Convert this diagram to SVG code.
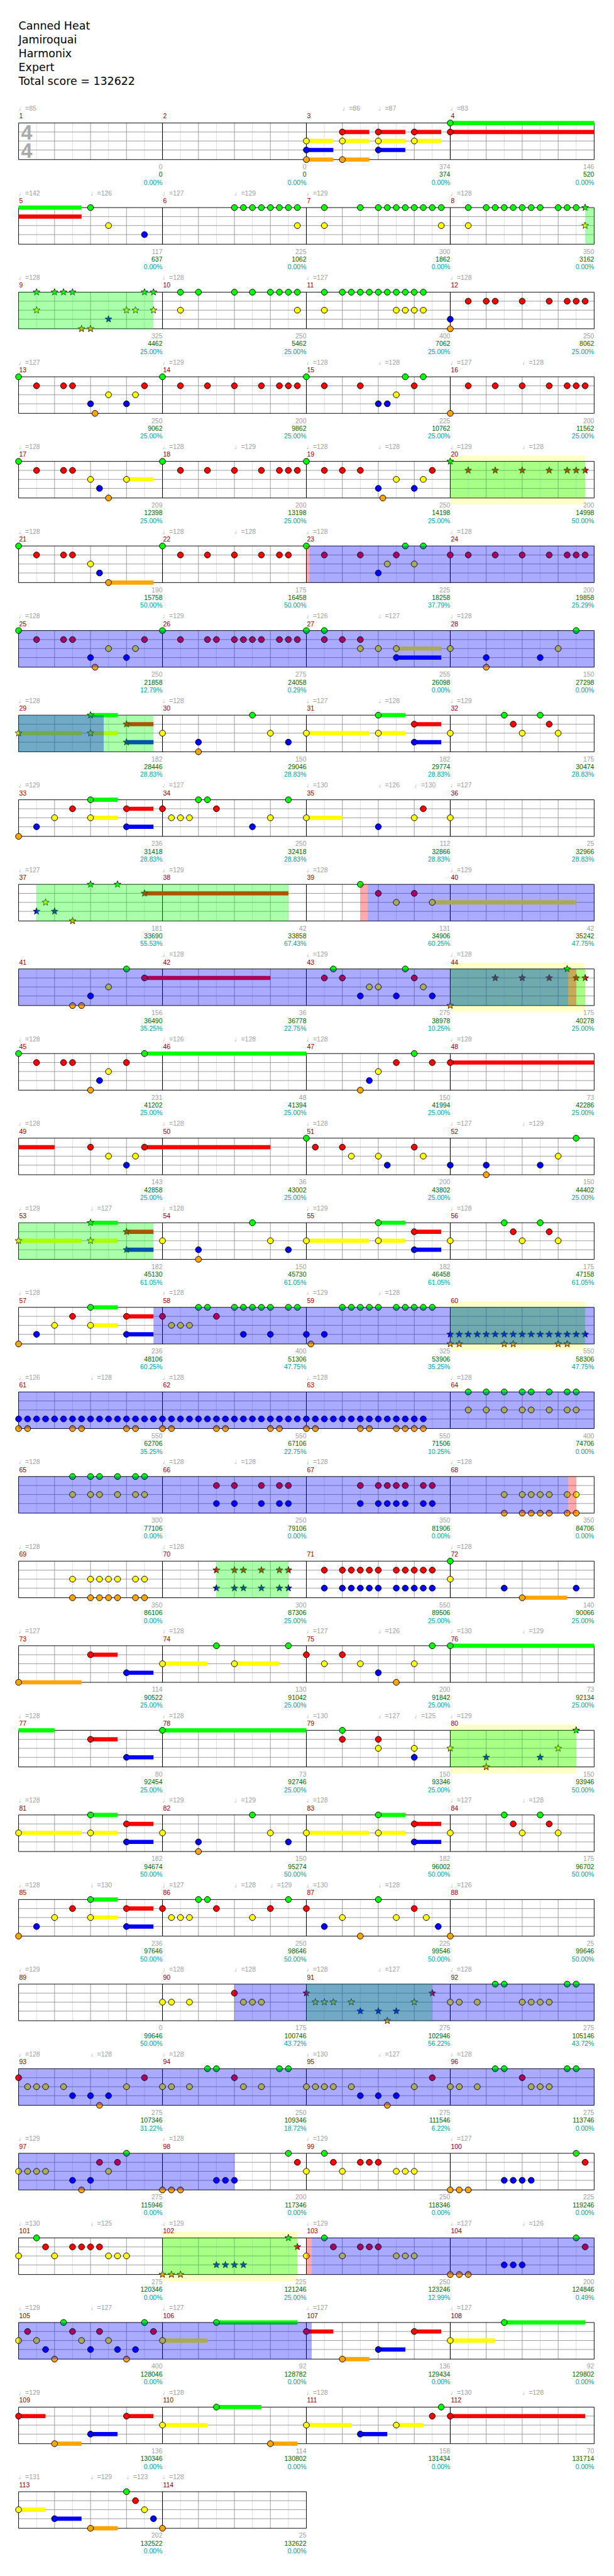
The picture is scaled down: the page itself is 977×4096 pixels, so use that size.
<svg xmlns="http://www.w3.org/2000/svg" width="977" height="4096" viewBox="0 0 977 4096">
<style>
text{font-family:"Liberation Sans","DejaVu Sans",sans-serif;font-size:11px}
.hd{font-family:"DejaVu Sans",sans-serif;font-size:18.3px;fill:#000}
.tp{fill:#a0a0a0}
.mn{fill:#8b0000}
.sc{fill:#a0a0a0;text-anchor:end}
.cu{fill:#006400;text-anchor:end}
.pc{fill:#00a0a0;text-anchor:end}
.ts{font-family:"Liberation Sans",sans-serif;font-weight:bold;font-size:34px;fill:#aaa}
.sg,.sr,.sy,.sb,.so{fill:none;stroke-width:7}
.sg{stroke:#0f0}.sr{stroke:#f00}.sy{stroke:#ff0}.sb{stroke:#00f}.so{stroke:#ffa500}
.og{fill:#0f0;fill-opacity:.333}.ob{fill:#00f;fill-opacity:.333}.op{fill:#f00;fill-opacity:.333}.pl{fill:#ffffc8}
circle{stroke:#000;stroke-width:1}
</style>
<defs>
<g id="M">
<path d="M30 0V61M90 0V61M150 0V61M210 0V61" stroke="#dcdcdc" fill="none"/>
<path d="M0 15H240M0 30H240M0 45H240M60 0V61M120 0V61M180 0V61" stroke="#999" fill="none"/>
<path d="M0 0H240M0 61H240M0 0V61M240 0V61" stroke="#000" fill="none"/>
</g>
<g id="R4"><use href="#M"/><use href="#M" x="240"/><use href="#M" x="480"/><use href="#M" x="720"/></g>
<circle id="G" cy="0" r="5" fill="#0f0"/>
<circle id="R" cy="15" r="5" fill="#f00"/>
<circle id="Y" cy="30" r="5" fill="#ff0"/>
<circle id="B" cy="45" r="5" fill="#00f"/>
<circle id="O" cy="61" r="5" fill="#ffa500"/>
<path id="st" d="M0,-6L1.47,-2.02 5.71,-1.85 2.38,0.77 3.53,4.85 0,2.5 -3.53,4.85 -2.38,0.77 -5.71,-1.85 -1.47,-2.02Z" stroke="#000" stroke-width="0.8"/>
<use id="sG" href="#st" fill="#0f0"/>
<use id="sR" href="#st" y="15" fill="#f00"/>
<use id="sY" href="#st" y="30" fill="#ff0"/>
<use id="sB" href="#st" y="45" fill="#00f"/>
<use id="sO" href="#st" y="61" fill="#ffa500"/>
</defs>
<rect width="977" height="4096" fill="#fff"/>
<g transform="scale(0.954)">
<g id="header">
<text class="hd" x="31" y="49">Canned Heat</text>
<text class="hd" x="31" y="72">Jamiroquai</text>
<text class="hd" x="31" y="95">Harmonix</text>
<text class="hd" x="31" y="118">Expert</text>
<text class="hd" x="31" y="141">Total score = 132622</text>
</g>

<g id="row1" transform="translate(31,205)">
<use href="#R4"/>
<text class="ts" x="4" y="28">4</text><text class="ts" x="4" y="58">4</text>
<g id="connectors1">
<path class="sy" d="M480 30h45M540 30h45M600 30h45M660 30h45"/>
<path class="sb" d="M480 45h45M600 45h45"/>
<path class="so" d="M480 61h45M540 61h45"/>
<path class="sr" d="M540 15h45M600 15h45M660 15h45M720 15h240"/>
<path class="sg" d="M720 0h240"/>
</g>
<use href="#Y" x="480"/><use href="#B" x="480"/><use href="#O" x="480"/><use href="#R" x="540"/><use href="#Y" x="540"/><use href="#O" x="540"/><use href="#R" x="600"/><use href="#Y" x="600"/><use href="#B" x="600"/><use href="#R" x="660"/><use href="#Y" x="660"/><use href="#G" x="720"/><use href="#R" x="720"/>
<text class="tp" x="0" y="-20.5">♩=85</text><text class="tp" x="540" y="-20.5">♩=86</text><text class="tp" x="600" y="-20.5">♩=87</text><text class="tp" x="720" y="-20.5">♩=83</text>
<text class="mn" x="1" y="-7.5">1</text><text class="mn" x="241" y="-7.5">2</text><text class="mn" x="481" y="-7.5">3</text><text class="mn" x="721" y="-7.5">4</text>
<text class="sc" x="240" y="77">0</text><text class="cu" x="240" y="90">0</text><text class="pc" x="240" y="103">0.00%</text>
<text class="sc" x="480" y="77">0</text><text class="cu" x="480" y="90">0</text><text class="pc" x="480" y="103">0.00%</text>
<text class="sc" x="720" y="77">374</text><text class="cu" x="720" y="90">374</text><text class="pc" x="720" y="103">0.00%</text>
<text class="sc" x="960" y="77">146</text><text class="cu" x="960" y="90">520</text><text class="pc" x="960" y="103">0.00%</text>
</g>

<g id="row2" transform="translate(31,346)">
<use href="#R4"/>
<path class="sg" d="M0 0h105"/><path class="sr" d="M0 15h105"/>
<use href="#G" x="120"/><use href="#Y" x="150"/><use href="#B" x="210"/><use href="#G" x="360"/><use href="#G" x="375"/><use href="#G" x="390"/><use href="#G" x="405"/><use href="#G" x="420"/><use href="#G" x="435"/><use href="#G" x="450"/><use href="#G" x="465"/><use href="#Y" x="465"/><use href="#G" x="510"/><use href="#G" x="570"/><use href="#G" x="600"/><use href="#G" x="615"/><use href="#G" x="630"/><use href="#G" x="645"/><use href="#G" x="660"/><use href="#G" x="675"/><use href="#G" x="690"/><use href="#G" x="705"/><use href="#Y" x="510"/><use href="#Y" x="705"/><use href="#G" x="750"/><use href="#G" x="780"/><use href="#G" x="795"/><use href="#G" x="810"/><use href="#G" x="825"/><use href="#G" x="840"/><use href="#G" x="855"/><use href="#G" x="870"/><use href="#G" x="900"/><use href="#G" x="915"/><use href="#G" x="930"/><use href="#Y" x="750"/><use href="#sG" x="945"/><use href="#sY" x="945"/>
<rect class="og" x="945" y="0" width="15" height="61"/>
<text class="tp" x="0" y="-20.5">♩=142</text><text class="tp" x="120" y="-20.5">♩=126</text><text class="tp" x="240" y="-20.5">♩=127</text><text class="tp" x="360" y="-20.5">♩=129</text><text class="tp" x="480" y="-20.5">♩=129</text><text class="tp" x="720" y="-20.5">♩=128</text>
<text class="mn" x="1" y="-7.5">5</text><text class="mn" x="241" y="-7.5">6</text><text class="mn" x="481" y="-7.5">7</text><text class="mn" x="721" y="-7.5">8</text>
<text class="sc" x="240" y="77">117</text><text class="cu" x="240" y="90">637</text><text class="pc" x="240" y="103">0.00%</text>
<text class="sc" x="480" y="77">225</text><text class="cu" x="480" y="90">1062</text><text class="pc" x="480" y="103">0.00%</text>
<text class="sc" x="720" y="77">300</text><text class="cu" x="720" y="90">1862</text><text class="pc" x="720" y="103">0.00%</text>
<text class="sc" x="960" y="77">350</text><text class="cu" x="960" y="90">3162</text><text class="pc" x="960" y="103">0.00%</text>
</g>

<g id="row3" transform="translate(31,487)">
<use href="#R4"/>
<use href="#sG" x="30"/><use href="#sG" x="60"/><use href="#sG" x="75"/><use href="#sG" x="90"/><use href="#sG" x="210"/><use href="#sG" x="225"/><use href="#sY" x="30"/><use href="#sY" x="180"/><use href="#sY" x="195"/><use href="#sY" x="225"/><use href="#sB" x="150"/><use href="#sO" x="105"/><use href="#sO" x="120"/>
<use href="#G" x="270"/><use href="#G" x="300"/><use href="#G" x="360"/><use href="#G" x="390"/><use href="#G" x="420"/><use href="#G" x="435"/><use href="#G" x="450"/><use href="#G" x="465"/><use href="#Y" x="270"/><use href="#Y" x="465"/><use href="#G" x="510"/><use href="#G" x="540"/><use href="#G" x="555"/><use href="#G" x="570"/><use href="#G" x="585"/><use href="#G" x="600"/><use href="#G" x="615"/><use href="#G" x="630"/><use href="#G" x="645"/><use href="#G" x="660"/><use href="#G" x="675"/><use href="#Y" x="510"/><use href="#Y" x="630"/><use href="#Y" x="645"/><use href="#Y" x="660"/><use href="#Y" x="675"/><use href="#B" x="720"/><use href="#O" x="720"/><use href="#R" x="750"/><use href="#R" x="780"/><use href="#R" x="795"/><use href="#R" x="840"/><use href="#R" x="885"/><use href="#R" x="915"/><use href="#R" x="930"/><use href="#R" x="945"/>
<rect class="og" x="0" y="0" width="225" height="61"/>
<text class="tp" x="0" y="-20.5">♩=128</text><text class="tp" x="240" y="-20.5">♩=128</text><text class="tp" x="480" y="-20.5">♩=127</text><text class="tp" x="720" y="-20.5">♩=128</text>
<text class="mn" x="1" y="-7.5">9</text><text class="mn" x="241" y="-7.5">10</text><text class="mn" x="481" y="-7.5">11</text><text class="mn" x="721" y="-7.5">12</text>
<text class="sc" x="240" y="77">325</text><text class="cu" x="240" y="90">4462</text><text class="pc" x="240" y="103">25.00%</text>
<text class="sc" x="480" y="77">250</text><text class="cu" x="480" y="90">5462</text><text class="pc" x="480" y="103">25.00%</text>
<text class="sc" x="720" y="77">400</text><text class="cu" x="720" y="90">7062</text><text class="pc" x="720" y="103">25.00%</text>
<text class="sc" x="960" y="77">250</text><text class="cu" x="960" y="90">8062</text><text class="pc" x="960" y="103">25.00%</text>
</g>

<g id="row4" transform="translate(31,628)">
<use href="#R4"/>
<use href="#G" x="0"/><use href="#R" x="30"/><use href="#R" x="75"/><use href="#R" x="90"/><use href="#R" x="210"/><use href="#Y" x="150"/><use href="#Y" x="195"/><use href="#B" x="120"/><use href="#B" x="180"/><use href="#O" x="127.5"/><use href="#G" x="240"/><use href="#R" x="270"/><use href="#R" x="315"/><use href="#R" x="360"/><use href="#R" x="405"/><use href="#R" x="435"/><use href="#R" x="450"/><use href="#R" x="465"/><use href="#G" x="480"/><use href="#R" x="510"/><use href="#R" x="570"/><use href="#R" x="660"/><use href="#Y" x="630"/><use href="#B" x="600"/><use href="#B" x="615"/><use href="#G" x="645"/><use href="#G" x="675"/><use href="#O" x="720"/><use href="#R" x="750"/><use href="#R" x="795"/><use href="#R" x="840"/><use href="#R" x="885"/><use href="#R" x="915"/><use href="#R" x="930"/><use href="#R" x="945"/>
<text class="tp" x="0" y="-20.5">♩=127</text><text class="tp" x="240" y="-20.5">♩=129</text><text class="tp" x="480" y="-20.5">♩=128</text><text class="tp" x="600" y="-20.5">♩=128</text><text class="tp" x="720" y="-20.5">♩=127</text><text class="tp" x="840" y="-20.5">♩=128</text>
<text class="mn" x="1" y="-7.5">13</text><text class="mn" x="241" y="-7.5">14</text><text class="mn" x="481" y="-7.5">15</text><text class="mn" x="721" y="-7.5">16</text>
<text class="sc" x="240" y="77">250</text><text class="cu" x="240" y="90">9062</text><text class="pc" x="240" y="103">25.00%</text>
<text class="sc" x="480" y="77">200</text><text class="cu" x="480" y="90">9862</text><text class="pc" x="480" y="103">25.00%</text>
<text class="sc" x="720" y="77">225</text><text class="cu" x="720" y="90">10762</text><text class="pc" x="720" y="103">25.00%</text>
<text class="sc" x="960" y="77">200</text><text class="cu" x="960" y="90">11562</text><text class="pc" x="960" y="103">25.00%</text>
</g>

<g id="row5" transform="translate(31,769)">
<rect class="pl" x="720" y="-10" width="225" height="82"/>
<use href="#R4"/>
<path class="sy" d="M180 30h45"/>
<use href="#G" x="0"/><use href="#R" x="30"/><use href="#R" x="75"/><use href="#R" x="90"/><use href="#Y" x="120"/><use href="#Y" x="180"/><use href="#B" x="135"/><use href="#O" x="150"/><use href="#G" x="240"/><use href="#R" x="270"/><use href="#R" x="315"/><use href="#R" x="360"/><use href="#R" x="405"/><use href="#R" x="435"/><use href="#R" x="450"/><use href="#R" x="465"/><use href="#G" x="480"/><use href="#R" x="510"/><use href="#R" x="540"/><use href="#R" x="570"/><use href="#R" x="690"/><use href="#Y" x="630"/><use href="#Y" x="675"/><use href="#B" x="600"/><use href="#B" x="660"/><use href="#O" x="607.5"/><use href="#sG" x="720"/><use href="#sR" x="750"/><use href="#sR" x="795"/><use href="#sR" x="840"/><use href="#sR" x="885"/><use href="#sR" x="915"/><use href="#sR" x="930"/><use href="#sR" x="945"/>
<rect class="og" x="720" y="0" width="225" height="61"/>
<text class="tp" x="0" y="-20.5">♩=128</text><text class="tp" x="240" y="-20.5">♩=128</text><text class="tp" x="360" y="-20.5">♩=129</text><text class="tp" x="480" y="-20.5">♩=128</text><text class="tp" x="600" y="-20.5">♩=128</text><text class="tp" x="720" y="-20.5">♩=129</text><text class="tp" x="840" y="-20.5">♩=128</text>
<text class="mn" x="1" y="-7.5">17</text><text class="mn" x="241" y="-7.5">18</text><text class="mn" x="481" y="-7.5">19</text><text class="mn" x="721" y="-7.5">20</text>
<text class="sc" x="240" y="77">209</text><text class="cu" x="240" y="90">12398</text><text class="pc" x="240" y="103">25.00%</text>
<text class="sc" x="480" y="77">200</text><text class="cu" x="480" y="90">13198</text><text class="pc" x="480" y="103">25.00%</text>
<text class="sc" x="720" y="77">250</text><text class="cu" x="720" y="90">14198</text><text class="pc" x="720" y="103">25.00%</text>
<text class="sc" x="960" y="77">200</text><text class="cu" x="960" y="90">14998</text><text class="pc" x="960" y="103">50.00%</text>
</g>

<g id="row6" transform="translate(31,910)">
<use href="#R4"/>
<path class="so" d="M150 61h75"/>
<use href="#G" x="0"/><use href="#R" x="30"/><use href="#R" x="75"/><use href="#R" x="90"/><use href="#Y" x="120"/><use href="#B" x="135"/><use href="#O" x="150"/><use href="#G" x="240"/><use href="#R" x="270"/><use href="#R" x="315"/><use href="#R" x="360"/><use href="#R" x="405"/><use href="#R" x="435"/><use href="#R" x="450"/><use href="#G" x="480"/><use href="#R" x="510"/><use href="#R" x="570"/><use href="#R" x="630"/><use href="#G" x="645"/><use href="#G" x="675"/><use href="#Y" x="615"/><use href="#Y" x="660"/><use href="#B" x="600"/><use href="#R" x="720"/><use href="#R" x="750"/><use href="#R" x="795"/><use href="#R" x="840"/><use href="#R" x="885"/><use href="#R" x="915"/><use href="#R" x="930"/><use href="#R" x="945"/>
<rect class="op" x="480" y="0" width="5" height="61"/><rect class="ob" x="485" y="0" width="475" height="61"/>
<text class="tp" x="0" y="-20.5">♩=128</text><text class="tp" x="240" y="-20.5">♩=128</text><text class="tp" x="360" y="-20.5">♩=128</text><text class="tp" x="480" y="-20.5">♩=128</text><text class="tp" x="720" y="-20.5">♩=128</text>
<text class="mn" x="1" y="-7.5">21</text><text class="mn" x="241" y="-7.5">22</text><text class="mn" x="481" y="-7.5">23</text><text class="mn" x="721" y="-7.5">24</text>
<text class="sc" x="240" y="77">190</text><text class="cu" x="240" y="90">15758</text><text class="pc" x="240" y="103">50.00%</text>
<text class="sc" x="480" y="77">175</text><text class="cu" x="480" y="90">16458</text><text class="pc" x="480" y="103">50.00%</text>
<text class="sc" x="720" y="77">225</text><text class="cu" x="720" y="90">18258</text><text class="pc" x="720" y="103">37.79%</text>
<text class="sc" x="960" y="77">200</text><text class="cu" x="960" y="90">19858</text><text class="pc" x="960" y="103">25.29%</text>
</g>

<g id="row7" transform="translate(31,1051)">
<use href="#R4"/>
<path class="sy" d="M630 30h75"/><path class="sb" d="M630 45h75"/>
<use href="#G" x="0"/><use href="#R" x="30"/><use href="#R" x="75"/><use href="#R" x="90"/><use href="#R" x="210"/><use href="#Y" x="150"/><use href="#Y" x="195"/><use href="#B" x="120"/><use href="#B" x="180"/><use href="#O" x="127.5"/><use href="#G" x="240"/><use href="#R" x="270"/><use href="#R" x="315"/><use href="#R" x="330"/><use href="#R" x="360"/><use href="#R" x="375"/><use href="#R" x="390"/><use href="#R" x="405"/><use href="#R" x="435"/><use href="#R" x="450"/><use href="#R" x="465"/><use href="#G" x="480"/><use href="#G" x="510"/><use href="#R" x="510"/><use href="#R" x="540"/><use href="#R" x="570"/><use href="#Y" x="570"/><use href="#Y" x="600"/><use href="#Y" x="630"/><use href="#B" x="630"/><use href="#Y" x="720"/><use href="#Y" x="900"/><use href="#B" x="780"/><use href="#B" x="870"/><use href="#O" x="780"/><use href="#G" x="930"/>
<rect class="ob" x="0" y="0" width="960" height="61"/>
<text class="tp" x="0" y="-20.5">♩=128</text><text class="tp" x="240" y="-20.5">♩=129</text><text class="tp" x="480" y="-20.5">♩=126</text><text class="tp" x="600" y="-20.5">♩=127</text><text class="tp" x="720" y="-20.5">♩=128</text>
<text class="mn" x="1" y="-7.5">25</text><text class="mn" x="241" y="-7.5">26</text><text class="mn" x="481" y="-7.5">27</text><text class="mn" x="721" y="-7.5">28</text>
<text class="sc" x="240" y="77">250</text><text class="cu" x="240" y="90">21858</text><text class="pc" x="240" y="103">12.79%</text>
<text class="sc" x="480" y="77">275</text><text class="cu" x="480" y="90">24058</text><text class="pc" x="480" y="103">0.29%</text>
<text class="sc" x="720" y="77">255</text><text class="cu" x="720" y="90">26098</text><text class="pc" x="720" y="103">0.00%</text>
<text class="sc" x="960" y="77">150</text><text class="cu" x="960" y="90">27298</text><text class="pc" x="960" y="103">0.00%</text>
</g>

<g id="row8" transform="translate(31,1192)">
<use href="#R4"/>
<path class="sy" d="M0 30h105M120 30h45M480 30h105M600 30h45"/><path class="sg" d="M120 0h45M600 0h45"/><path class="sr" d="M180 15h45M660 15h45"/><path class="sb" d="M180 45h45M660 45h45"/>
<use href="#sY" x="0"/><use href="#sG" x="120"/><use href="#sY" x="120"/><use href="#sR" x="180"/><use href="#sB" x="180"/>
<use href="#Y" x="240"/><use href="#Y" x="420"/><use href="#B" x="300"/><use href="#B" x="450"/><use href="#O" x="300"/><use href="#G" x="390"/><use href="#Y" x="480"/><use href="#G" x="600"/><use href="#Y" x="600"/><use href="#R" x="660"/><use href="#B" x="660"/><use href="#Y" x="720"/><use href="#Y" x="840"/><use href="#Y" x="900"/><use href="#G" x="810"/><use href="#G" x="870"/><use href="#R" x="825"/><use href="#R" x="885"/>
<rect class="og" x="0" y="0" width="225" height="61"/><rect class="ob" x="0" y="0" width="142" height="61"/>
<text class="tp" x="0" y="-20.5">♩=128</text><text class="tp" x="240" y="-20.5">♩=128</text><text class="tp" x="480" y="-20.5">♩=127</text><text class="tp" x="600" y="-20.5">♩=128</text><text class="tp" x="720" y="-20.5">♩=129</text>
<text class="mn" x="1" y="-7.5">29</text><text class="mn" x="241" y="-7.5">30</text><text class="mn" x="481" y="-7.5">31</text><text class="mn" x="721" y="-7.5">32</text>
<text class="sc" x="240" y="77">182</text><text class="cu" x="240" y="90">28446</text><text class="pc" x="240" y="103">28.83%</text>
<text class="sc" x="480" y="77">150</text><text class="cu" x="480" y="90">29046</text><text class="pc" x="480" y="103">28.83%</text>
<text class="sc" x="720" y="77">182</text><text class="cu" x="720" y="90">29774</text><text class="pc" x="720" y="103">28.83%</text>
<text class="sc" x="960" y="77">175</text><text class="cu" x="960" y="90">30474</text><text class="pc" x="960" y="103">28.83%</text>
</g>

<g id="row9" transform="translate(31,1333)">
<use href="#R4"/>
<path class="sg" d="M120 0h45"/><path class="sy" d="M120 30h45M480 30h60"/><path class="sr" d="M180 15h45"/><path class="sb" d="M180 45h45"/>
<use href="#O" x="0"/><use href="#B" x="30"/><use href="#Y" x="60"/><use href="#R" x="90"/><use href="#G" x="120"/><use href="#Y" x="120"/><use href="#R" x="180"/><use href="#B" x="180"/><use href="#R" x="240"/><use href="#R" x="330"/><use href="#Y" x="255"/><use href="#Y" x="270"/><use href="#Y" x="285"/><use href="#Y" x="420"/><use href="#G" x="300"/><use href="#G" x="315"/><use href="#G" x="450"/><use href="#B" x="390"/><use href="#Y" x="480"/><use href="#B" x="600"/><use href="#Y" x="660"/><use href="#R" x="675"/><use href="#Y" x="720"/>
<text class="tp" x="0" y="-20.5">♩=129</text><text class="tp" x="240" y="-20.5">♩=127</text><text class="tp" x="480" y="-20.5">♩=130</text><text class="tp" x="600" y="-20.5">♩=126</text><text class="tp" x="660" y="-20.5">♩=130</text><text class="tp" x="720" y="-20.5">♩=127</text>
<text class="mn" x="1" y="-7.5">33</text><text class="mn" x="241" y="-7.5">34</text><text class="mn" x="481" y="-7.5">35</text><text class="mn" x="721" y="-7.5">36</text>
<text class="sc" x="240" y="77">236</text><text class="cu" x="240" y="90">31418</text><text class="pc" x="240" y="103">28.83%</text>
<text class="sc" x="480" y="77">250</text><text class="cu" x="480" y="90">32418</text><text class="pc" x="480" y="103">28.83%</text>
<text class="sc" x="720" y="77">112</text><text class="cu" x="720" y="90">32866</text><text class="pc" x="720" y="103">28.83%</text>
<text class="sc" x="960" y="77">25</text><text class="cu" x="960" y="90">32966</text><text class="pc" x="960" y="103">28.83%</text>
</g>

<g id="row10" transform="translate(31,1474)">
<use href="#R4"/>
<path class="sr" d="M210 15h240"/><path class="sy" d="M690 30h240"/>
<use href="#sB" x="30"/><use href="#sY" x="45"/><use href="#sB" x="60"/><use href="#sO" x="90"/><use href="#sG" x="120"/><use href="#sG" x="165"/><use href="#sR" x="210"/>
<use href="#G" x="570"/><use href="#R" x="600"/><use href="#R" x="660"/><use href="#Y" x="630"/><use href="#Y" x="690"/>
<rect class="og" x="30" y="0" width="420" height="61"/><rect class="op" x="570" y="0" width="12" height="61"/><rect class="ob" x="582" y="0" width="378" height="61"/>
<text class="tp" x="0" y="-20.5">♩=127</text><text class="tp" x="240" y="-20.5">♩=129</text><text class="tp" x="480" y="-20.5">♩=128</text><text class="tp" x="720" y="-20.5">♩=129</text>
<text class="mn" x="1" y="-7.5">37</text><text class="mn" x="241" y="-7.5">38</text><text class="mn" x="481" y="-7.5">39</text><text class="mn" x="721" y="-7.5">40</text>
<text class="sc" x="240" y="77">181</text><text class="cu" x="240" y="90">33690</text><text class="pc" x="240" y="103">55.53%</text>
<text class="sc" x="480" y="77">42</text><text class="cu" x="480" y="90">33858</text><text class="pc" x="480" y="103">67.43%</text>
<text class="sc" x="720" y="77">131</text><text class="cu" x="720" y="90">34906</text><text class="pc" x="720" y="103">60.25%</text>
<text class="sc" x="960" y="77">42</text><text class="cu" x="960" y="90">35242</text><text class="pc" x="960" y="103">47.75%</text>
</g>

<g id="row11" transform="translate(31,1615)">
<rect class="pl" x="720" y="-10" width="225" height="82"/>
<use href="#R4"/>
<path class="sr" d="M210 15h210"/>
<use href="#O" x="90"/><use href="#O" x="105"/><use href="#B" x="120"/><use href="#Y" x="150"/><use href="#G" x="180"/><use href="#R" x="210"/><use href="#R" x="510"/><use href="#R" x="540"/><use href="#R" x="660"/><use href="#G" x="525"/><use href="#G" x="645"/><use href="#Y" x="585"/><use href="#Y" x="600"/><use href="#Y" x="675"/><use href="#B" x="570"/><use href="#B" x="630"/><use href="#B" x="690"/>
<use href="#sO" x="720"/><use href="#sR" x="795"/><use href="#sR" x="840"/><use href="#sR" x="885"/><use href="#sR" x="930"/><use href="#sR" x="945"/><use href="#sG" x="915"/>
<rect class="og" x="720" y="0" width="225" height="61"/><rect class="ob" x="0" y="0" width="917" height="61"/><rect class="op" x="917" y="0" width="13" height="61"/>
<text class="tp" x="240" y="-20.5">♩=128</text><text class="tp" x="480" y="-20.5">♩=129</text><text class="tp" x="720" y="-20.5">♩=128</text>
<text class="mn" x="1" y="-7.5">41</text><text class="mn" x="241" y="-7.5">42</text><text class="mn" x="481" y="-7.5">43</text><text class="mn" x="721" y="-7.5">44</text>
<text class="sc" x="240" y="77">156</text><text class="cu" x="240" y="90">36490</text><text class="pc" x="240" y="103">35.25%</text>
<text class="sc" x="480" y="77">36</text><text class="cu" x="480" y="90">36778</text><text class="pc" x="480" y="103">22.75%</text>
<text class="sc" x="720" y="77">275</text><text class="cu" x="720" y="90">38978</text><text class="pc" x="720" y="103">10.25%</text>
<text class="sc" x="960" y="77">175</text><text class="cu" x="960" y="90">40278</text><text class="pc" x="960" y="103">25.00%</text>
</g>

<g id="row12" transform="translate(31,1756)">
<use href="#R4"/>
<path class="sg" d="M210 0h270"/><path class="sr" d="M720 15h240"/>
<use href="#G" x="0"/><use href="#R" x="30"/><use href="#R" x="75"/><use href="#R" x="90"/><use href="#R" x="180"/><use href="#Y" x="150"/><use href="#B" x="135"/><use href="#O" x="120"/><use href="#G" x="210"/><use href="#O" x="570"/><use href="#B" x="585"/><use href="#Y" x="600"/><use href="#R" x="630"/><use href="#R" x="690"/><use href="#G" x="660"/><use href="#R" x="720"/>
<text class="tp" x="0" y="-20.5">♩=128</text><text class="tp" x="240" y="-20.5">♩=126</text><text class="tp" x="360" y="-20.5">♩=128</text><text class="tp" x="480" y="-20.5">♩=128</text><text class="tp" x="720" y="-20.5">♩=128</text>
<text class="mn" x="1" y="-7.5">45</text><text class="mn" x="241" y="-7.5">46</text><text class="mn" x="481" y="-7.5">47</text><text class="mn" x="721" y="-7.5">48</text>
<text class="sc" x="240" y="77">231</text><text class="cu" x="240" y="90">41202</text><text class="pc" x="240" y="103">25.00%</text>
<text class="sc" x="480" y="77">48</text><text class="cu" x="480" y="90">41394</text><text class="pc" x="480" y="103">25.00%</text>
<text class="sc" x="720" y="77">150</text><text class="cu" x="720" y="90">41994</text><text class="pc" x="720" y="103">25.00%</text>
<text class="sc" x="960" y="77">73</text><text class="cu" x="960" y="90">42286</text><text class="pc" x="960" y="103">25.00%</text>
</g>

<g id="row13" transform="translate(31,1897)">
<use href="#R4"/>
<path class="sr" d="M0 15h60M210 15h210"/>
<use href="#R" x="120"/><use href="#Y" x="150"/><use href="#Y" x="195"/><use href="#B" x="180"/><use href="#R" x="210"/><use href="#G" x="480"/><use href="#R" x="495"/><use href="#R" x="540"/><use href="#R" x="660"/><use href="#Y" x="555"/><use href="#Y" x="600"/><use href="#Y" x="675"/><use href="#B" x="615"/><use href="#B" x="720"/><use href="#B" x="780"/><use href="#B" x="870"/><use href="#O" x="780"/><use href="#Y" x="900"/><use href="#G" x="930"/>
<text class="tp" x="0" y="-20.5">♩=128</text><text class="tp" x="240" y="-20.5">♩=128</text><text class="tp" x="480" y="-20.5">♩=128</text><text class="tp" x="720" y="-20.5">♩=127</text><text class="tp" x="840" y="-20.5">♩=129</text>
<text class="mn" x="1" y="-7.5">49</text><text class="mn" x="241" y="-7.5">50</text><text class="mn" x="481" y="-7.5">51</text><text class="mn" x="721" y="-7.5">52</text>
<text class="sc" x="240" y="77">143</text><text class="cu" x="240" y="90">42858</text><text class="pc" x="240" y="103">25.00%</text>
<text class="sc" x="480" y="77">36</text><text class="cu" x="480" y="90">43002</text><text class="pc" x="480" y="103">25.00%</text>
<text class="sc" x="720" y="77">200</text><text class="cu" x="720" y="90">43802</text><text class="pc" x="720" y="103">25.00%</text>
<text class="sc" x="960" y="77">150</text><text class="cu" x="960" y="90">44402</text><text class="pc" x="960" y="103">25.00%</text>
</g>

<g id="row14" transform="translate(31,2038)">
<use href="#R4"/>
<path class="sy" d="M0 30h105M120 30h45M480 30h105M600 30h45"/><path class="sg" d="M120 0h45M600 0h45"/><path class="sr" d="M180 15h45M660 15h45"/><path class="sb" d="M180 45h45M660 45h45"/>
<use href="#sY" x="0"/><use href="#sG" x="120"/><use href="#sY" x="120"/><use href="#sR" x="180"/><use href="#sB" x="180"/>
<use href="#Y" x="240"/><use href="#Y" x="420"/><use href="#B" x="300"/><use href="#B" x="450"/><use href="#O" x="300"/><use href="#G" x="390"/><use href="#Y" x="480"/><use href="#G" x="600"/><use href="#Y" x="600"/><use href="#R" x="660"/><use href="#B" x="660"/><use href="#Y" x="720"/><use href="#Y" x="840"/><use href="#Y" x="900"/><use href="#G" x="810"/><use href="#G" x="870"/><use href="#R" x="825"/><use href="#R" x="885"/>
<rect class="og" x="0" y="0" width="225" height="61"/>
<text class="tp" x="0" y="-20.5">♩=129</text><text class="tp" x="120" y="-20.5">♩=127</text><text class="tp" x="240" y="-20.5">♩=128</text><text class="tp" x="480" y="-20.5">♩=129</text><text class="tp" x="720" y="-20.5">♩=128</text>
<text class="mn" x="1" y="-7.5">53</text><text class="mn" x="241" y="-7.5">54</text><text class="mn" x="481" y="-7.5">55</text><text class="mn" x="721" y="-7.5">56</text>
<text class="sc" x="240" y="77">182</text><text class="cu" x="240" y="90">45130</text><text class="pc" x="240" y="103">61.05%</text>
<text class="sc" x="480" y="77">150</text><text class="cu" x="480" y="90">45730</text><text class="pc" x="480" y="103">61.05%</text>
<text class="sc" x="720" y="77">182</text><text class="cu" x="720" y="90">46458</text><text class="pc" x="720" y="103">61.05%</text>
<text class="sc" x="960" y="77">175</text><text class="cu" x="960" y="90">47158</text><text class="pc" x="960" y="103">61.05%</text>
</g>

<g id="row15" transform="translate(31,2179)">
<rect class="pl" x="720" y="-10" width="225" height="82"/>
<use href="#R4"/>
<path class="sg" d="M120 0h45"/><path class="sy" d="M120 30h45"/><path class="sr" d="M180 15h45"/><path class="sb" d="M180 45h45"/>
<use href="#O" x="0"/><use href="#B" x="30"/><use href="#Y" x="60"/><use href="#R" x="90"/><use href="#G" x="120"/><use href="#Y" x="120"/><use href="#R" x="180"/><use href="#B" x="180"/><use href="#R" x="240"/><use href="#R" x="330"/><use href="#Y" x="255"/><use href="#Y" x="270"/><use href="#Y" x="285"/><use href="#G" x="300"/><use href="#G" x="315"/><use href="#G" x="360"/><use href="#G" x="375"/><use href="#G" x="390"/><use href="#G" x="405"/><use href="#G" x="420"/><use href="#G" x="450"/><use href="#G" x="465"/><use href="#B" x="375"/><use href="#B" x="420"/><use href="#B" x="480"/><use href="#B" x="510"/><use href="#O" x="487.5"/><use href="#G" x="540"/><use href="#G" x="555"/><use href="#G" x="570"/><use href="#G" x="585"/><use href="#G" x="600"/><use href="#G" x="630"/><use href="#G" x="645"/><use href="#G" x="660"/><use href="#G" x="675"/><use href="#G" x="690"/>
<use href="#sB" x="720"/><use href="#sB" x="735"/><use href="#sB" x="750"/><use href="#sB" x="765"/><use href="#sB" x="780"/><use href="#sB" x="795"/><use href="#sB" x="810"/><use href="#sB" x="825"/><use href="#sB" x="840"/><use href="#sB" x="855"/><use href="#sB" x="870"/><use href="#sB" x="885"/><use href="#sB" x="900"/><use href="#sB" x="915"/><use href="#sB" x="930"/><use href="#sB" x="945"/><use href="#sO" x="720"/><use href="#sO" x="735"/><use href="#sO" x="810"/><use href="#sO" x="825"/><use href="#sO" x="900"/><use href="#sO" x="915"/>
<rect class="og" x="720" y="0" width="225" height="61"/><rect class="ob" x="225" y="0" width="735" height="61"/>
<text class="tp" x="0" y="-20.5">♩=128</text><text class="tp" x="240" y="-20.5">♩=128</text><text class="tp" x="480" y="-20.5">♩=129</text><text class="tp" x="600" y="-20.5">♩=128</text>
<text class="mn" x="1" y="-7.5">57</text><text class="mn" x="241" y="-7.5">58</text><text class="mn" x="481" y="-7.5">59</text><text class="mn" x="721" y="-7.5">60</text>
<text class="sc" x="240" y="77">236</text><text class="cu" x="240" y="90">48106</text><text class="pc" x="240" y="103">60.25%</text>
<text class="sc" x="480" y="77">400</text><text class="cu" x="480" y="90">51306</text><text class="pc" x="480" y="103">47.75%</text>
<text class="sc" x="720" y="77">325</text><text class="cu" x="720" y="90">53906</text><text class="pc" x="720" y="103">35.25%</text>
<text class="sc" x="960" y="77">550</text><text class="cu" x="960" y="90">58306</text><text class="pc" x="960" y="103">47.75%</text>
</g>

<g id="row16" transform="translate(31,2320)">
<use href="#R4"/>
<use href="#B" x="0"/><use href="#B" x="15"/><use href="#B" x="30"/><use href="#B" x="45"/><use href="#B" x="60"/><use href="#B" x="75"/><use href="#B" x="90"/><use href="#B" x="105"/><use href="#B" x="120"/><use href="#B" x="135"/><use href="#B" x="150"/><use href="#B" x="165"/><use href="#B" x="180"/><use href="#B" x="195"/><use href="#B" x="210"/><use href="#B" x="225"/><use href="#B" x="240"/><use href="#B" x="255"/><use href="#B" x="270"/><use href="#B" x="285"/><use href="#B" x="300"/><use href="#B" x="315"/><use href="#B" x="330"/><use href="#B" x="345"/><use href="#B" x="360"/><use href="#B" x="375"/><use href="#B" x="390"/><use href="#B" x="405"/><use href="#B" x="420"/><use href="#B" x="435"/><use href="#B" x="450"/><use href="#B" x="465"/><use href="#B" x="480"/><use href="#B" x="495"/><use href="#B" x="510"/><use href="#B" x="525"/><use href="#B" x="540"/><use href="#B" x="555"/><use href="#B" x="570"/><use href="#B" x="585"/><use href="#B" x="600"/><use href="#B" x="615"/><use href="#B" x="630"/><use href="#B" x="645"/><use href="#B" x="660"/><use href="#B" x="675"/>
<use href="#O" x="0"/><use href="#O" x="15"/><use href="#O" x="90"/><use href="#O" x="105"/><use href="#O" x="180"/><use href="#O" x="195"/><use href="#O" x="240"/><use href="#O" x="255"/><use href="#O" x="330"/><use href="#O" x="345"/><use href="#O" x="420"/><use href="#O" x="435"/><use href="#O" x="480"/><use href="#O" x="495"/><use href="#O" x="570"/><use href="#O" x="585"/><use href="#O" x="630"/><use href="#O" x="645"/><use href="#O" x="660"/><use href="#O" x="675"/>
<use href="#G" x="750"/><use href="#G" x="780"/><use href="#G" x="810"/><use href="#G" x="840"/><use href="#G" x="855"/><use href="#G" x="885"/><use href="#G" x="915"/><use href="#G" x="930"/><use href="#Y" x="750"/><use href="#Y" x="780"/><use href="#Y" x="810"/><use href="#Y" x="840"/><use href="#Y" x="855"/><use href="#Y" x="885"/><use href="#Y" x="915"/><use href="#Y" x="930"/>
<rect class="ob" x="0" y="0" width="960" height="61"/>
<text class="tp" x="0" y="-20.5">♩=126</text><text class="tp" x="120" y="-20.5">♩=128</text><text class="tp" x="240" y="-20.5">♩=128</text><text class="tp" x="480" y="-20.5">♩=128</text><text class="tp" x="720" y="-20.5">♩=128</text>
<text class="mn" x="1" y="-7.5">61</text><text class="mn" x="241" y="-7.5">62</text><text class="mn" x="481" y="-7.5">63</text><text class="mn" x="721" y="-7.5">64</text>
<text class="sc" x="240" y="77">550</text><text class="cu" x="240" y="90">62706</text><text class="pc" x="240" y="103">35.25%</text>
<text class="sc" x="480" y="77">550</text><text class="cu" x="480" y="90">67106</text><text class="pc" x="480" y="103">22.75%</text>
<text class="sc" x="720" y="77">550</text><text class="cu" x="720" y="90">71506</text><text class="pc" x="720" y="103">10.25%</text>
<text class="sc" x="960" y="77">400</text><text class="cu" x="960" y="90">74706</text><text class="pc" x="960" y="103">0.00%</text>
</g>

<g id="row17" transform="translate(31,2461)">
<use href="#R4"/>
<use href="#G" x="90"/><use href="#G" x="120"/><use href="#G" x="135"/><use href="#G" x="165"/><use href="#G" x="195"/><use href="#G" x="210"/><use href="#Y" x="90"/><use href="#Y" x="120"/><use href="#Y" x="135"/><use href="#Y" x="165"/><use href="#Y" x="195"/><use href="#Y" x="210"/>
<use href="#R" x="330"/><use href="#R" x="360"/><use href="#R" x="405"/><use href="#R" x="435"/><use href="#R" x="450"/><use href="#B" x="330"/><use href="#B" x="360"/><use href="#B" x="405"/><use href="#B" x="435"/><use href="#B" x="450"/>
<use href="#R" x="570"/><use href="#R" x="600"/><use href="#R" x="615"/><use href="#R" x="630"/><use href="#R" x="645"/><use href="#R" x="675"/><use href="#R" x="690"/><use href="#B" x="570"/><use href="#B" x="600"/><use href="#B" x="615"/><use href="#B" x="630"/><use href="#B" x="645"/><use href="#B" x="675"/><use href="#B" x="690"/>
<use href="#Y" x="810"/><use href="#Y" x="840"/><use href="#Y" x="855"/><use href="#Y" x="870"/><use href="#Y" x="885"/><use href="#Y" x="915"/><use href="#Y" x="930"/><use href="#O" x="810"/><use href="#O" x="840"/><use href="#O" x="855"/><use href="#O" x="870"/><use href="#O" x="885"/><use href="#O" x="915"/><use href="#O" x="930"/>
<rect class="ob" x="0" y="0" width="917" height="61"/><rect class="op" x="917" y="0" width="13" height="61"/>
<text class="tp" x="0" y="-20.5">♩=128</text><text class="tp" x="240" y="-20.5">♩=128</text><text class="tp" x="360" y="-20.5">♩=128</text><text class="tp" x="480" y="-20.5">♩=128</text><text class="tp" x="720" y="-20.5">♩=128</text>
<text class="mn" x="1" y="-7.5">65</text><text class="mn" x="241" y="-7.5">66</text><text class="mn" x="481" y="-7.5">67</text><text class="mn" x="721" y="-7.5">68</text>
<text class="sc" x="240" y="77">300</text><text class="cu" x="240" y="90">77106</text><text class="pc" x="240" y="103">0.00%</text>
<text class="sc" x="480" y="77">250</text><text class="cu" x="480" y="90">79106</text><text class="pc" x="480" y="103">0.00%</text>
<text class="sc" x="720" y="77">350</text><text class="cu" x="720" y="90">81906</text><text class="pc" x="720" y="103">0.00%</text>
<text class="sc" x="960" y="77">350</text><text class="cu" x="960" y="90">84706</text><text class="pc" x="960" y="103">0.00%</text>
</g>

<g id="row18" transform="translate(31,2602)">
<use href="#R4"/>
<path class="so" d="M840 61h75"/>
<use href="#Y" x="90"/><use href="#Y" x="120"/><use href="#Y" x="135"/><use href="#Y" x="150"/><use href="#Y" x="165"/><use href="#Y" x="195"/><use href="#Y" x="210"/><use href="#O" x="90"/><use href="#O" x="120"/><use href="#O" x="135"/><use href="#O" x="150"/><use href="#O" x="165"/><use href="#O" x="195"/><use href="#O" x="210"/>
<use href="#sR" x="330"/><use href="#sR" x="360"/><use href="#sR" x="375"/><use href="#sR" x="405"/><use href="#sR" x="435"/><use href="#sR" x="450"/><use href="#sB" x="330"/><use href="#sB" x="360"/><use href="#sB" x="375"/><use href="#sB" x="405"/><use href="#sB" x="435"/><use href="#sB" x="450"/>
<use href="#R" x="510"/><use href="#R" x="540"/><use href="#R" x="555"/><use href="#R" x="570"/><use href="#R" x="585"/><use href="#R" x="600"/><use href="#R" x="630"/><use href="#R" x="645"/><use href="#R" x="660"/><use href="#R" x="675"/><use href="#R" x="690"/><use href="#B" x="510"/><use href="#B" x="540"/><use href="#B" x="555"/><use href="#B" x="570"/><use href="#B" x="585"/><use href="#B" x="600"/><use href="#B" x="630"/><use href="#B" x="645"/><use href="#B" x="660"/><use href="#B" x="675"/><use href="#B" x="690"/>
<use href="#G" x="720"/><use href="#Y" x="720"/><use href="#B" x="810"/><use href="#B" x="930"/><use href="#O" x="840"/>
<rect class="og" x="330" y="0" width="120" height="61"/>
<text class="tp" x="0" y="-20.5">♩=128</text><text class="tp" x="240" y="-20.5">♩=128</text><text class="tp" x="720" y="-20.5">♩=128</text>
<text class="mn" x="1" y="-7.5">69</text><text class="mn" x="241" y="-7.5">70</text><text class="mn" x="481" y="-7.5">71</text><text class="mn" x="721" y="-7.5">72</text>
<text class="sc" x="240" y="77">350</text><text class="cu" x="240" y="90">86106</text><text class="pc" x="240" y="103">0.00%</text>
<text class="sc" x="480" y="77">300</text><text class="cu" x="480" y="90">87306</text><text class="pc" x="480" y="103">25.00%</text>
<text class="sc" x="720" y="77">550</text><text class="cu" x="720" y="90">89506</text><text class="pc" x="720" y="103">25.00%</text>
<text class="sc" x="960" y="77">140</text><text class="cu" x="960" y="90">90066</text><text class="pc" x="960" y="103">25.00%</text>
</g>

<g id="row19" transform="translate(31,2743)">
<use href="#R4"/>
<path class="so" d="M0 61h105"/><path class="sr" d="M120 15h45"/><path class="sb" d="M180 45h45"/><path class="sy" d="M240 30h75M360 30h75"/><path class="sg" d="M720 0h240"/>
<use href="#O" x="0"/><use href="#R" x="120"/><use href="#B" x="180"/><use href="#Y" x="240"/><use href="#G" x="330"/><use href="#Y" x="360"/><use href="#G" x="450"/><use href="#R" x="480"/><use href="#R" x="540"/><use href="#Y" x="510"/><use href="#Y" x="570"/><use href="#Y" x="660"/><use href="#B" x="600"/><use href="#O" x="630"/><use href="#G" x="690"/><use href="#G" x="720"/>
<text class="tp" x="0" y="-20.5">♩=127</text><text class="tp" x="240" y="-20.5">♩=128</text><text class="tp" x="480" y="-20.5">♩=127</text><text class="tp" x="600" y="-20.5">♩=126</text><text class="tp" x="720" y="-20.5">♩=130</text><text class="tp" x="840" y="-20.5">♩=129</text>
<text class="mn" x="1" y="-7.5">73</text><text class="mn" x="241" y="-7.5">74</text><text class="mn" x="481" y="-7.5">75</text><text class="mn" x="721" y="-7.5">76</text>
<text class="sc" x="240" y="77">114</text><text class="cu" x="240" y="90">90522</text><text class="pc" x="240" y="103">25.00%</text>
<text class="sc" x="480" y="77">130</text><text class="cu" x="480" y="90">91042</text><text class="pc" x="480" y="103">25.00%</text>
<text class="sc" x="720" y="77">200</text><text class="cu" x="720" y="90">91842</text><text class="pc" x="720" y="103">25.00%</text>
<text class="sc" x="960" y="77">73</text><text class="cu" x="960" y="90">92134</text><text class="pc" x="960" y="103">25.00%</text>
</g>

<g id="row20" transform="translate(31,2884)">
<rect class="pl" x="720" y="-10" width="210" height="82"/>
<use href="#R4"/>
<path class="sg" d="M0 0h60M240 0h240"/><path class="sr" d="M120 15h45"/><path class="sb" d="M180 45h45"/>
<use href="#R" x="120"/><use href="#B" x="180"/><use href="#G" x="240"/><use href="#G" x="540"/><use href="#R" x="540"/><use href="#R" x="600"/><use href="#Y" x="600"/><use href="#Y" x="660"/><use href="#B" x="660"/>
<use href="#sY" x="720"/><use href="#sB" x="780"/><use href="#sO" x="780"/><use href="#sB" x="870"/><use href="#sY" x="900"/><use href="#sG" x="930"/>
<rect class="og" x="720" y="0" width="210" height="61"/>
<text class="tp" x="0" y="-20.5">♩=128</text><text class="tp" x="240" y="-20.5">♩=128</text><text class="tp" x="480" y="-20.5">♩=130</text><text class="tp" x="600" y="-20.5">♩=127</text><text class="tp" x="660" y="-20.5">♩=125</text><text class="tp" x="720" y="-20.5">♩=129</text>
<text class="mn" x="1" y="-7.5">77</text><text class="mn" x="241" y="-7.5">78</text><text class="mn" x="481" y="-7.5">79</text><text class="mn" x="721" y="-7.5">80</text>
<text class="sc" x="240" y="77">80</text><text class="cu" x="240" y="90">92454</text><text class="pc" x="240" y="103">25.00%</text>
<text class="sc" x="480" y="77">73</text><text class="cu" x="480" y="90">92746</text><text class="pc" x="480" y="103">25.00%</text>
<text class="sc" x="720" y="77">150</text><text class="cu" x="720" y="90">93346</text><text class="pc" x="720" y="103">25.00%</text>
<text class="sc" x="960" y="77">150</text><text class="cu" x="960" y="90">93946</text><text class="pc" x="960" y="103">50.00%</text>
</g>

<g id="row21" transform="translate(31,3025)">
<use href="#R4"/>
<path class="sy" d="M0 30h105M120 30h45M480 30h105M600 30h45"/><path class="sg" d="M120 0h45M600 0h45"/><path class="sr" d="M180 15h45M660 15h45"/><path class="sb" d="M180 45h45M660 45h45"/>
<use href="#Y" x="0"/><use href="#G" x="120"/><use href="#Y" x="120"/><use href="#R" x="180"/><use href="#B" x="180"/><use href="#Y" x="240"/><use href="#Y" x="420"/><use href="#B" x="300"/><use href="#B" x="450"/><use href="#O" x="300"/><use href="#G" x="390"/><use href="#Y" x="480"/><use href="#G" x="600"/><use href="#Y" x="600"/><use href="#R" x="660"/><use href="#B" x="660"/><use href="#Y" x="720"/><use href="#Y" x="840"/><use href="#Y" x="900"/><use href="#G" x="810"/><use href="#G" x="870"/><use href="#R" x="825"/><use href="#R" x="885"/>
<text class="tp" x="0" y="-20.5">♩=128</text><text class="tp" x="240" y="-20.5">♩=129</text><text class="tp" x="360" y="-20.5">♩=129</text><text class="tp" x="480" y="-20.5">♩=128</text><text class="tp" x="720" y="-20.5">♩=127</text><text class="tp" x="840" y="-20.5">♩=128</text>
<text class="mn" x="1" y="-7.5">81</text><text class="mn" x="241" y="-7.5">82</text><text class="mn" x="481" y="-7.5">83</text><text class="mn" x="721" y="-7.5">84</text>
<text class="sc" x="240" y="77">182</text><text class="cu" x="240" y="90">94674</text><text class="pc" x="240" y="103">50.00%</text>
<text class="sc" x="480" y="77">150</text><text class="cu" x="480" y="90">95274</text><text class="pc" x="480" y="103">50.00%</text>
<text class="sc" x="720" y="77">182</text><text class="cu" x="720" y="90">96002</text><text class="pc" x="720" y="103">50.00%</text>
<text class="sc" x="960" y="77">175</text><text class="cu" x="960" y="90">96702</text><text class="pc" x="960" y="103">50.00%</text>
</g>

<g id="row22" transform="translate(31,3166)">
<use href="#R4"/>
<path class="sg" d="M120 0h45"/><path class="sy" d="M120 30h45"/><path class="sr" d="M180 15h45"/><path class="sb" d="M180 45h45"/>
<use href="#O" x="0"/><use href="#B" x="30"/><use href="#Y" x="60"/><use href="#R" x="90"/><use href="#G" x="120"/><use href="#Y" x="120"/><use href="#R" x="180"/><use href="#B" x="180"/><use href="#R" x="240"/><use href="#R" x="330"/><use href="#R" x="420"/><use href="#Y" x="255"/><use href="#Y" x="270"/><use href="#Y" x="285"/><use href="#Y" x="390"/><use href="#G" x="300"/><use href="#G" x="315"/><use href="#G" x="450"/><use href="#R" x="480"/><use href="#R" x="660"/><use href="#B" x="510"/><use href="#B" x="700"/><use href="#Y" x="540"/><use href="#Y" x="630"/><use href="#Y" x="680"/><use href="#O" x="570"/><use href="#O" x="720"/><use href="#G" x="600"/>
<text class="tp" x="0" y="-20.5">♩=128</text><text class="tp" x="120" y="-20.5">♩=130</text><text class="tp" x="240" y="-20.5">♩=127</text><text class="tp" x="360" y="-20.5">♩=128</text><text class="tp" x="420" y="-20.5">♩=129</text><text class="tp" x="480" y="-20.5">♩=130</text><text class="tp" x="600" y="-20.5">♩=128</text><text class="tp" x="720" y="-20.5">♩=126</text>
<text class="mn" x="1" y="-7.5">85</text><text class="mn" x="241" y="-7.5">86</text><text class="mn" x="481" y="-7.5">87</text><text class="mn" x="721" y="-7.5">88</text>
<text class="sc" x="240" y="77">236</text><text class="cu" x="240" y="90">97646</text><text class="pc" x="240" y="103">50.00%</text>
<text class="sc" x="480" y="77">250</text><text class="cu" x="480" y="90">98646</text><text class="pc" x="480" y="103">50.00%</text>
<text class="sc" x="720" y="77">225</text><text class="cu" x="720" y="90">99546</text><text class="pc" x="720" y="103">50.00%</text>
<text class="sc" x="960" y="77">25</text><text class="cu" x="960" y="90">99646</text><text class="pc" x="960" y="103">50.00%</text>
</g>

<g id="row23" transform="translate(31,3307)">
<use href="#R4"/>
<use href="#Y" x="240"/><use href="#Y" x="255"/><use href="#Y" x="285"/><use href="#R" x="360"/><use href="#Y" x="375"/><use href="#Y" x="390"/><use href="#Y" x="405"/><use href="#Y" x="720"/><use href="#Y" x="735"/><use href="#Y" x="765"/><use href="#Y" x="840"/><use href="#Y" x="855"/><use href="#Y" x="870"/><use href="#Y" x="885"/><use href="#G" x="795"/><use href="#G" x="810"/><use href="#G" x="915"/><use href="#G" x="930"/>
<use href="#sR" x="480"/><use href="#sY" x="495"/><use href="#sY" x="510"/><use href="#sY" x="525"/><use href="#sY" x="555"/><use href="#sY" x="660"/><use href="#sB" x="570"/><use href="#sB" x="600"/><use href="#sB" x="630"/><use href="#sO" x="615"/><use href="#sR" x="690"/>
<rect class="og" x="480" y="0" width="210" height="61"/><rect class="ob" x="360" y="0" width="600" height="61"/>
<text class="tp" x="0" y="-20.5">♩=129</text><text class="tp" x="240" y="-20.5">♩=128</text><text class="tp" x="360" y="-20.5">♩=128</text><text class="tp" x="480" y="-20.5">♩=128</text><text class="tp" x="600" y="-20.5">♩=127</text><text class="tp" x="720" y="-20.5">♩=128</text>
<text class="mn" x="1" y="-7.5">89</text><text class="mn" x="241" y="-7.5">90</text><text class="mn" x="481" y="-7.5">91</text><text class="mn" x="721" y="-7.5">92</text>
<text class="sc" x="240" y="77">0</text><text class="cu" x="240" y="90">99646</text><text class="pc" x="240" y="103">50.00%</text>
<text class="sc" x="480" y="77">175</text><text class="cu" x="480" y="90">100746</text><text class="pc" x="480" y="103">43.72%</text>
<text class="sc" x="720" y="77">275</text><text class="cu" x="720" y="90">102946</text><text class="pc" x="720" y="103">56.22%</text>
<text class="sc" x="960" y="77">275</text><text class="cu" x="960" y="90">105146</text><text class="pc" x="960" y="103">43.72%</text>
</g>

<g id="row24" transform="translate(31,3448)">
<use href="#R4"/>
<use href="#R" x="0"/><use href="#R" x="210"/><use href="#Y" x="15"/><use href="#Y" x="30"/><use href="#Y" x="45"/><use href="#Y" x="75"/><use href="#Y" x="180"/><use href="#B" x="90"/><use href="#B" x="120"/><use href="#B" x="150"/><use href="#O" x="135"/>
<use href="#Y" x="240"/><use href="#Y" x="255"/><use href="#Y" x="285"/><use href="#Y" x="375"/><use href="#Y" x="405"/><use href="#G" x="315"/><use href="#G" x="330"/><use href="#G" x="435"/><use href="#G" x="450"/><use href="#R" x="360"/>
<use href="#Y" x="480"/><use href="#Y" x="495"/><use href="#Y" x="510"/><use href="#Y" x="525"/><use href="#Y" x="555"/><use href="#Y" x="660"/><use href="#B" x="570"/><use href="#B" x="600"/><use href="#B" x="630"/><use href="#O" x="615"/><use href="#R" x="690"/>
<use href="#Y" x="720"/><use href="#Y" x="735"/><use href="#Y" x="765"/><use href="#Y" x="855"/><use href="#Y" x="870"/><use href="#Y" x="885"/><use href="#G" x="795"/><use href="#G" x="810"/><use href="#G" x="915"/><use href="#G" x="930"/><use href="#R" x="840"/>
<rect class="ob" x="0" y="0" width="960" height="61"/>
<text class="tp" x="0" y="-20.5">♩=128</text><text class="tp" x="120" y="-20.5">♩=128</text><text class="tp" x="240" y="-20.5">♩=128</text><text class="tp" x="480" y="-20.5">♩=130</text><text class="tp" x="600" y="-20.5">♩=127</text><text class="tp" x="720" y="-20.5">♩=128</text>
<text class="mn" x="1" y="-7.5">93</text><text class="mn" x="241" y="-7.5">94</text><text class="mn" x="481" y="-7.5">95</text><text class="mn" x="721" y="-7.5">96</text>
<text class="sc" x="240" y="77">275</text><text class="cu" x="240" y="90">107346</text><text class="pc" x="240" y="103">31.22%</text>
<text class="sc" x="480" y="77">250</text><text class="cu" x="480" y="90">109346</text><text class="pc" x="480" y="103">18.72%</text>
<text class="sc" x="720" y="77">275</text><text class="cu" x="720" y="90">111546</text><text class="pc" x="720" y="103">6.22%</text>
<text class="sc" x="960" y="77">275</text><text class="cu" x="960" y="90">113746</text><text class="pc" x="960" y="103">0.00%</text>
</g>

<g id="row25" transform="translate(31,3589)">
<use href="#R4"/>
<use href="#Y" x="0"/><use href="#Y" x="15"/><use href="#Y" x="30"/><use href="#Y" x="45"/><use href="#Y" x="150"/><use href="#B" x="90"/><use href="#B" x="120"/><use href="#O" x="105"/><use href="#R" x="135"/><use href="#R" x="165"/><use href="#G" x="180"/>
<use href="#O" x="240"/><use href="#O" x="255"/><use href="#O" x="270"/><use href="#B" x="330"/><use href="#B" x="345"/><use href="#B" x="360"/><use href="#G" x="450"/><use href="#R" x="465"/>
<use href="#Y" x="480"/><use href="#Y" x="540"/><use href="#Y" x="630"/><use href="#Y" x="645"/><use href="#Y" x="660"/><use href="#G" x="510"/><use href="#R" x="525"/><use href="#R" x="570"/><use href="#R" x="585"/><use href="#R" x="600"/>
<use href="#O" x="720"/><use href="#O" x="735"/><use href="#O" x="750"/><use href="#B" x="810"/><use href="#B" x="825"/><use href="#B" x="840"/><use href="#B" x="855"/><use href="#G" x="930"/><use href="#R" x="945"/>
<rect class="ob" x="0" y="0" width="360" height="61"/>
<text class="tp" x="0" y="-20.5">♩=129</text><text class="tp" x="240" y="-20.5">♩=128</text><text class="tp" x="480" y="-20.5">♩=129</text><text class="tp" x="720" y="-20.5">♩=127</text>
<text class="mn" x="1" y="-7.5">97</text><text class="mn" x="241" y="-7.5">98</text><text class="mn" x="481" y="-7.5">99</text><text class="mn" x="721" y="-7.5">100</text>
<text class="sc" x="240" y="77">275</text><text class="cu" x="240" y="90">115946</text><text class="pc" x="240" y="103">0.00%</text>
<text class="sc" x="480" y="77">200</text><text class="cu" x="480" y="90">117346</text><text class="pc" x="480" y="103">0.00%</text>
<text class="sc" x="720" y="77">250</text><text class="cu" x="720" y="90">118346</text><text class="pc" x="720" y="103">0.00%</text>
<text class="sc" x="960" y="77">225</text><text class="cu" x="960" y="90">119246</text><text class="pc" x="960" y="103">0.00%</text>
</g>

<g id="row26" transform="translate(31,3730)">
<rect class="pl" x="240" y="-10" width="225" height="82"/>
<use href="#R4"/>
<use href="#Y" x="0"/><use href="#Y" x="60"/><use href="#Y" x="150"/><use href="#Y" x="165"/><use href="#Y" x="180"/><use href="#G" x="30"/><use href="#R" x="45"/><use href="#R" x="90"/><use href="#R" x="105"/><use href="#R" x="120"/><use href="#R" x="135"/>
<use href="#sO" x="240"/><use href="#sO" x="255"/><use href="#sO" x="270"/><use href="#sB" x="330"/><use href="#sB" x="345"/><use href="#sB" x="360"/><use href="#sB" x="375"/><use href="#sG" x="450"/><use href="#sR" x="465"/>
<use href="#Y" x="480"/><use href="#G" x="510"/><use href="#R" x="525"/><use href="#R" x="570"/><use href="#R" x="585"/><use href="#R" x="600"/><use href="#Y" x="540"/><use href="#Y" x="630"/><use href="#Y" x="645"/><use href="#Y" x="660"/>
<use href="#O" x="720"/><use href="#O" x="735"/><use href="#O" x="750"/><use href="#B" x="810"/><use href="#B" x="825"/><use href="#B" x="840"/><use href="#G" x="930"/><use href="#R" x="945"/>
<rect class="og" x="240" y="0" width="225" height="61"/><rect class="op" x="480" y="0" width="9" height="61"/><rect class="ob" x="489" y="0" width="471" height="61"/>
<text class="tp" x="0" y="-20.5">♩=130</text><text class="tp" x="120" y="-20.5">♩=125</text><text class="tp" x="240" y="-20.5">♩=129</text><text class="tp" x="480" y="-20.5">♩=129</text><text class="tp" x="720" y="-20.5">♩=127</text><text class="tp" x="840" y="-20.5">♩=126</text>
<text class="mn" x="1" y="-7.5">101</text><text class="mn" x="241" y="-7.5">102</text><text class="mn" x="481" y="-7.5">103</text><text class="mn" x="721" y="-7.5">104</text>
<text class="sc" x="240" y="77">275</text><text class="cu" x="240" y="90">120346</text><text class="pc" x="240" y="103">0.00%</text>
<text class="sc" x="480" y="77">225</text><text class="cu" x="480" y="90">121246</text><text class="pc" x="480" y="103">25.00%</text>
<text class="sc" x="720" y="77">250</text><text class="cu" x="720" y="90">123246</text><text class="pc" x="720" y="103">12.99%</text>
<text class="sc" x="960" y="77">200</text><text class="cu" x="960" y="90">124846</text><text class="pc" x="960" y="103">0.49%</text>
</g>

<g id="row27" transform="translate(31,3871)">
<use href="#R4"/>
<path class="sy" d="M240 30h75M720 30h75"/><path class="sg" d="M330 0h135M810 0h135"/><path class="sr" d="M480 15h45M660 15h45"/><path class="so" d="M540 61h45"/><path class="sb" d="M600 45h45"/>
<use href="#Y" x="0"/><use href="#Y" x="30"/><use href="#Y" x="105"/><use href="#Y" x="150"/><use href="#R" x="15"/><use href="#R" x="90"/><use href="#R" x="135"/><use href="#R" x="225"/><use href="#B" x="45"/><use href="#B" x="120"/><use href="#B" x="165"/><use href="#B" x="195"/><use href="#O" x="60"/><use href="#O" x="180"/><use href="#G" x="75"/><use href="#G" x="210"/>
<use href="#Y" x="240"/><use href="#G" x="330"/><use href="#R" x="480"/><use href="#O" x="540"/><use href="#B" x="600"/><use href="#R" x="660"/><use href="#Y" x="720"/><use href="#G" x="810"/>
<rect class="ob" x="0" y="0" width="489" height="61"/>
<text class="tp" x="0" y="-20.5">♩=129</text><text class="tp" x="120" y="-20.5">♩=127</text><text class="tp" x="240" y="-20.5">♩=127</text><text class="tp" x="480" y="-20.5">♩=127</text><text class="tp" x="720" y="-20.5">♩=127</text>
<text class="mn" x="1" y="-7.5">105</text><text class="mn" x="241" y="-7.5">106</text><text class="mn" x="481" y="-7.5">107</text><text class="mn" x="721" y="-7.5">108</text>
<text class="sc" x="240" y="77">400</text><text class="cu" x="240" y="90">128046</text><text class="pc" x="240" y="103">0.00%</text>
<text class="sc" x="480" y="77">92</text><text class="cu" x="480" y="90">128782</text><text class="pc" x="480" y="103">0.00%</text>
<text class="sc" x="720" y="77">136</text><text class="cu" x="720" y="90">129434</text><text class="pc" x="720" y="103">0.00%</text>
<text class="sc" x="960" y="77">92</text><text class="cu" x="960" y="90">129802</text><text class="pc" x="960" y="103">0.00%</text>
</g>

<g id="row28" transform="translate(31,4012)">
<use href="#R4"/>
<path class="sr" d="M0 15h45M180 15h45M720 15h225"/><path class="so" d="M60 61h45M420 61h45"/><path class="sb" d="M120 45h45M570 45h45"/><path class="sy" d="M240 30h75M480 30h75M630 30h45"/><path class="sg" d="M330 0h75"/>
<use href="#R" x="0"/><use href="#O" x="60"/><use href="#B" x="120"/><use href="#R" x="180"/><use href="#Y" x="240"/><use href="#G" x="330"/><use href="#O" x="420"/><use href="#Y" x="480"/><use href="#B" x="570"/><use href="#Y" x="630"/><use href="#R" x="690"/><use href="#G" x="705"/><use href="#R" x="720"/>
<text class="tp" x="0" y="-20.5">♩=129</text><text class="tp" x="240" y="-20.5">♩=128</text><text class="tp" x="480" y="-20.5">♩=128</text><text class="tp" x="720" y="-20.5">♩=130</text><text class="tp" x="840" y="-20.5">♩=128</text>
<text class="mn" x="1" y="-7.5">109</text><text class="mn" x="241" y="-7.5">110</text><text class="mn" x="481" y="-7.5">111</text><text class="mn" x="721" y="-7.5">112</text>
<text class="sc" x="240" y="77">136</text><text class="cu" x="240" y="90">130346</text><text class="pc" x="240" y="103">0.00%</text>
<text class="sc" x="480" y="77">114</text><text class="cu" x="480" y="90">130802</text><text class="pc" x="480" y="103">0.00%</text>
<text class="sc" x="720" y="77">158</text><text class="cu" x="720" y="90">131434</text><text class="pc" x="720" y="103">0.00%</text>
<text class="sc" x="960" y="77">70</text><text class="cu" x="960" y="90">131714</text><text class="pc" x="960" y="103">0.00%</text>
</g>

<g id="row29" transform="translate(31,4153)">
<use href="#M"/><use href="#M" x="240"/>
<path class="sy" d="M0 30h45"/><path class="sb" d="M60 45h45"/><path class="so" d="M120 61h45"/>
<use href="#Y" x="0"/><use href="#B" x="60"/><use href="#O" x="120"/><use href="#G" x="180"/><use href="#R" x="195"/><use href="#Y" x="210"/><use href="#B" x="225"/><use href="#O" x="240"/>
<text class="tp" x="0" y="-20.5">♩=131</text><text class="tp" x="120" y="-20.5">♩=129</text><text class="tp" x="180" y="-20.5">♩=123</text><text class="tp" x="240" y="-20.5">♩=128</text>
<text class="mn" x="1" y="-7.5">113</text><text class="mn" x="241" y="-7.5">114</text>
<text class="sc" x="240" y="77">202</text><text class="cu" x="240" y="90">132522</text><text class="pc" x="240" y="103">0.00%</text>
<text class="sc" x="480" y="77">25</text><text class="cu" x="480" y="90">132622</text><text class="pc" x="480" y="103">0.00%</text>
</g>
</g>
</svg>
